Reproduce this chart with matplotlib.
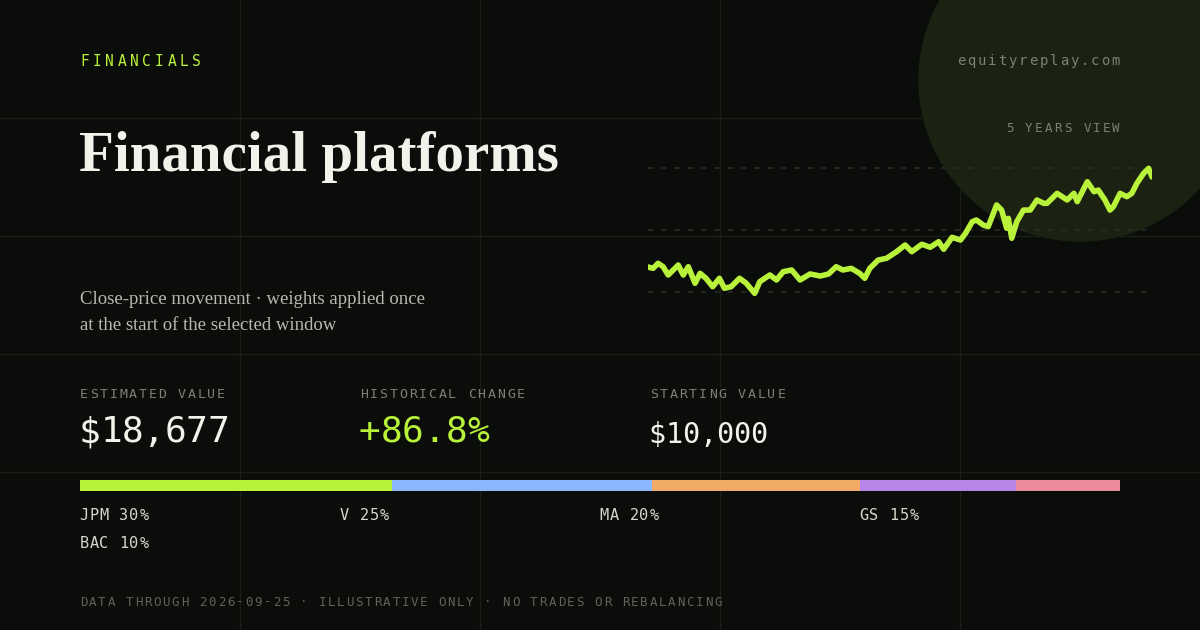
import matplotlib
matplotlib.use('Agg')
import matplotlib.pyplot as plt
from matplotlib.patches import Circle, Rectangle

# portfolio value over the 5 year window (month, value in $)
months = [0, 0.6, 1.2, 1.8, 2.4, 3.0, 3.6, 4.2, 4.8, 5.6, 6.2, 6.9, 7.7, 8.5, 9.1, 9.9,
          10.9, 11.7, 12.7, 13.3, 14.5, 15.3, 16.1, 17.1, 18.1, 19.3, 20.5, 21.5, 22.4,
          23.2, 24.2, 25.2, 25.8, 26.4, 27.4, 28.4, 29.6, 30.6, 31.4, 32.6, 33.6, 34.6,
          35.2, 36.2, 37.2, 37.8, 38.6, 39.1, 39.9, 40.5, 41.5, 42.1, 42.7, 42.9, 43.3,
          43.9, 44.7, 45.5, 46.3, 47.1, 47.5, 48.7, 49.9, 50.7, 51.1, 52.3, 53.1, 53.6,
          54.4, 55.0, 55.4, 56.2, 57.0, 57.6, 58.2, 59.0, 59.6, 60.0]
values = [10000, 9870, 10355, 10030, 9230, 9710, 10190, 9230, 10030, 8430, 9390, 8910,
          8100, 8910, 7950, 8100, 8910, 8430, 7460, 8580, 9230, 8750, 9550, 9710, 8750,
          9330, 9130, 9330, 10030, 9710, 9870, 9390, 8910, 9870, 10670, 10840, 11480,
          12120, 11480, 12190, 11900, 12440, 11710, 12860, 12600, 13250, 14370, 14530,
          14050, 13890, 15980, 15490, 13730, 14690, 12770, 14370, 15490, 15490, 16460,
          16140, 16140, 17100, 16460, 17100, 16300, 18220, 17260, 17420, 16460, 15490,
          15810, 17100, 16780, 17100, 18070, 19030, 19510, 18677]
guide_levels = [19544, 13567, 7590]

tickers = ['JPM', 'V', 'MA', 'GS', 'BAC']
weights = [30, 25, 20, 15, 10]
colors = ['#b9f23a', '#8cb6ff', '#f2ab66', '#b784e8', '#ea8b9b']

BG = '#0b0d0a'
GRID = '#1b1e19'
MUTED = '#7c8077'
CREAM = '#f2f1ea'
GREEN = '#b9f23a'
MONO = 'DejaVu Sans Mono'
SERIF = 'Liberation Serif'

W, H = 1200, 630
fig = plt.figure(figsize=(12, 6.3), dpi=100, facecolor=BG)
bg = fig.add_axes([0, 0, 1, 1])
bg.set_xlim(0, W)
bg.set_ylim(H, 0)
bg.axis('off')
bg.set_facecolor(BG)

for x in [240, 480, 720, 960]:
    bg.plot([x, x], [0, H], color=GRID, lw=1, zorder=0)
for y in [118, 236, 354, 472]:
    bg.plot([0, W], [y, y], color=GRID, lw=1, zorder=0)

bg.add_patch(Circle((1080, 80), 161, color='#1b2212', zorder=1))


def mono(x, y, s, pitch, size, color, right=False):
    # letter-spaced monospace text, one glyph per cell
    if right:
        x = x - pitch * len(s)
    for i, ch in enumerate(s):
        bg.text(x + i * pitch + pitch / 2, y, ch, color=color, fontsize=size,
                family=MONO, va='center', ha='center')


mono(78, 61, 'FINANCIALS', 12.5, 10.5, GREEN)
mono(1121, 61, 'equityreplay.com', 10.3, 10, MUTED, right=True)
mono(1121, 128, '5 YEARS VIEW', 9.7, 9, MUTED, right=True)
bg.text(79, 157, 'Financial platforms', color=CREAM, fontsize=41, family=SERIF,
        fontweight='bold', va='center')
bg.text(80, 299, 'Close-price movement · weights applied once', color='#b9b9ae',
        fontsize=13.5, family=SERIF, va='center')
bg.text(80, 325, 'at the start of the selected window', color='#b9b9ae',
        fontsize=13.5, family=SERIF, va='center')

stats = [(80, 'ESTIMATED VALUE', '$18,677', CREAM, 21.4, 26, 432),
         (360, 'HISTORICAL CHANGE', '+86.8%', GREEN, 21.6, 26, 432),
         (650, 'STARTING VALUE', '$10,000', CREAM, 16.8, 20.5, 435)]
for x, lab, val, c, pitch, size, y in stats:
    mono(x - 1, 394, lab, 9.8, 9.5, MUTED)
    mono(x - 1, y, val, pitch, size, c)

left = 80
total = 1040
for i, (t, w, c) in enumerate(zip(tickers, weights, colors)):
    width = total * w / 100
    bg.add_patch(Rectangle((left, 480), width, 11, color=c, lw=0, zorder=3))
    left += width
    col = i % 4
    row = i // 4
    mono(79 + col * 260, 516 + row * 28, f'{t} {w}%', 10, 11, '#d6d6cc')

mono(79, 602, 'DATA THROUGH 2026-09-25 · ILLUSTRATIVE ONLY · NO TRADES OR REBALANCING',
     9.19, 9, '#5f635b')

# price chart
ax = fig.add_axes([648 / W, 1 - 310 / H, 504 / W, 160 / H])
ax.set_xlim(0, 60)
ax.set_ylim(5855, 21279)
ax.axis('off')
for lv in guide_levels:
    ax.axhline(lv, color='#2a2d27', lw=1.2, ls=(0, (3, 5)))
ax.plot(months, values, color=GREEN, lw=4, solid_joinstyle='round', solid_capstyle='round')

fig.savefig('out.png', dpi=100, facecolor=BG)
